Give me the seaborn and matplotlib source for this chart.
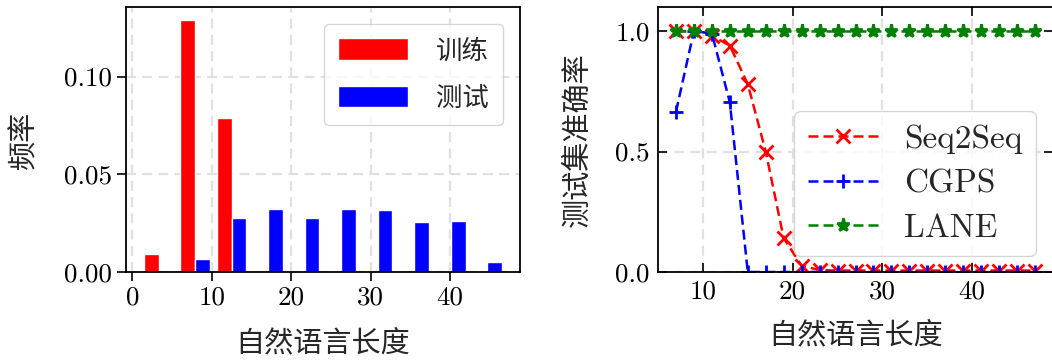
import numpy as np
import matplotlib
matplotlib.use("Agg")
import matplotlib.pyplot as plt
from matplotlib.ticker import FuncFormatter, MultipleLocator
import seaborn as sns

# ---------------- data ----------------
# histogram (density) of natural-language length, 10 bins from 1 to 47
bin_edges = [1.0, 5.6, 10.2, 14.8, 19.4, 24.0, 28.6, 33.2, 37.8, 42.4, 47.0]
train_density = [0.0094, 0.129, 0.079, 0.0, 0.0, 0.0, 0.0, 0.0, 0.0, 0.0]
test_density = [0.0, 0.0068, 0.0278, 0.0324, 0.0278, 0.0324, 0.0319, 0.0257, 0.0263, 0.0053]
hist_labels = ["训练", "测试"]

# test accuracy vs length
lengths = [7, 9, 11, 13, 15, 17, 19, 21, 23, 25, 27, 29, 31, 33, 35, 37, 39, 41, 43, 45, 47]
seq2seq_acc = [1.0, 1.0, 0.98, 0.94, 0.78, 0.50, 0.14, 0.026, 0.008, 0.006, 0.006, 0.006,
               0.006, 0.006, 0.006, 0.006, 0.006, 0.006, 0.006, 0.006, 0.006]
cgps_acc = [0.665, 1.0, 0.99, 0.705, 0.0, 0.0, 0.0, 0.0, 0.0, 0.0, 0.0, 0.0,
            0.0, 0.0, 0.0, 0.0, 0.0, 0.0, 0.0, 0.0, 0.0]
lane_acc = [1.0] * 21
line_labels = ["Seq2Seq", "CGPS", "LANE"]

xlabel_text = "自然语言长度"
ylabel_left = "频率"
ylabel_right = "测试集准确率"

# ---------------- style ----------------
sns.set_theme(style="ticks")
plt.rcParams["font.family"] = ["cmr10", "Noto Sans CJK SC", "DejaVu Sans"]
plt.rcParams["axes.formatter.use_mathtext"] = True
plt.rcParams["mathtext.fontset"] = "cm"
plt.rcParams["axes.unicode_minus"] = False
plt.rcParams["axes.edgecolor"] = "black"
plt.rcParams["axes.linewidth"] = 1.3

W, H = 1052, 361
fig = plt.figure(figsize=(W / 100, H / 100), dpi=100)
fig.patch.set_facecolor("white")

tick_fs = 19.5
label_fs = 21

ax1 = fig.add_axes([126 / W, (H - 272) / H, 394 / W, 265 / H])
ax2 = fig.add_axes([658 / W, (H - 272) / H, 395 / W, 265 / H])

grid_kw = dict(color="#e0e0e0", linewidth=1.6, dashes=(4.5, 2.8))

# ---------------- left: histogram ----------------
edges = np.array(bin_edges)
binw = np.diff(edges)
bw = 0.8 * binw / 2
left = edges[:-1] + 0.1 * binw
ax1.bar(left, train_density, width=bw, align="edge", color="red", label=hist_labels[0], zorder=2)
ax1.bar(left + bw, test_density, width=bw, align="edge", color="blue", label=hist_labels[1], zorder=2)
ax1.set_xlim(-0.79, 48.79)
ax1.set_ylim(0, 0.1356)
ax1.xaxis.set_major_locator(MultipleLocator(10))
ax1.yaxis.set_major_locator(MultipleLocator(0.05))
ax1.yaxis.set_major_formatter(FuncFormatter(lambda v, p: f"{v:.2f}"))
ax1.xaxis.set_major_formatter(FuncFormatter(lambda v, p: f"{v:.0f}"))
ax1.grid(True, **grid_kw)
ax1.set_axisbelow(True)
ax1.tick_params(direction="out", length=6.5, width=1.2, labelsize=tick_fs, pad=3.5, colors="black")
ax1.set_xlabel(xlabel_text, fontsize=label_fs)
ax1.set_ylabel(ylabel_left, fontsize=label_fs)
ax1.xaxis.set_label_coords(0.5, -0.219)
ax1.yaxis.set_label_coords(-0.221, 0.5)
leg1 = ax1.legend(loc="upper right", bbox_to_anchor=(0.957, 0.936), fontsize=19,
                  handlelength=2.65, handleheight=0.87, handletextpad=1.05,
                  labelspacing=0.85, borderpad=0.55, borderaxespad=0.0,
                  frameon=True, fancybox=True, edgecolor="#cccccc", framealpha=0.8)

# ---------------- right: accuracy lines ----------------
series = [(seq2seq_acc, "red", "x"), (cgps_acc, "blue", "+"), (lane_acc, "green", "*")]
for (vals, col, mk), lab in zip(series, line_labels):
    sns.lineplot(x=lengths, y=vals, ax=ax2, color=col, marker=mk, linestyle="--",
                 linewidth=1.8, markersize=9.5, markeredgewidth=2.0,
                 markeredgecolor=col, label=lab)
for ln in ax2.lines:
    ln.set_dashes((4.0, 2.0))
ax2.set_xlim(5, 49)
ax2.set_ylim(0, 1.1)
ax2.xaxis.set_major_locator(MultipleLocator(10))
ax2.yaxis.set_major_locator(MultipleLocator(0.5))
ax2.yaxis.set_major_formatter(FuncFormatter(lambda v, p: f"{v:.1f}"))
ax2.xaxis.set_major_formatter(FuncFormatter(lambda v, p: f"{v:.0f}"))
ax2.grid(True, **grid_kw)
ax2.set_axisbelow(True)
ax2.tick_params(direction="in", length=6.5, width=1.2, labelsize=tick_fs, pad=5.8,
                top=True, right=True, colors="black")
ax2.set_xlabel(xlabel_text, fontsize=label_fs)
ax2.set_ylabel(ylabel_right, fontsize=label_fs)
ax2.xaxis.set_label_coords(0.5, -0.189)
ax2.yaxis.set_label_coords(-0.1675, 0.5)
leg2 = ax2.legend(loc="lower right", bbox_to_anchor=(0.957, 0.06), fontsize=24,
                  handlelength=2.1, handletextpad=0.8, labelspacing=0.45,
                  borderpad=0.4, borderaxespad=0.0, numpoints=1,
                  frameon=True, fancybox=True, edgecolor="#cccccc", framealpha=0.8)

fig.savefig("out.png", dpi=100, facecolor="white")
